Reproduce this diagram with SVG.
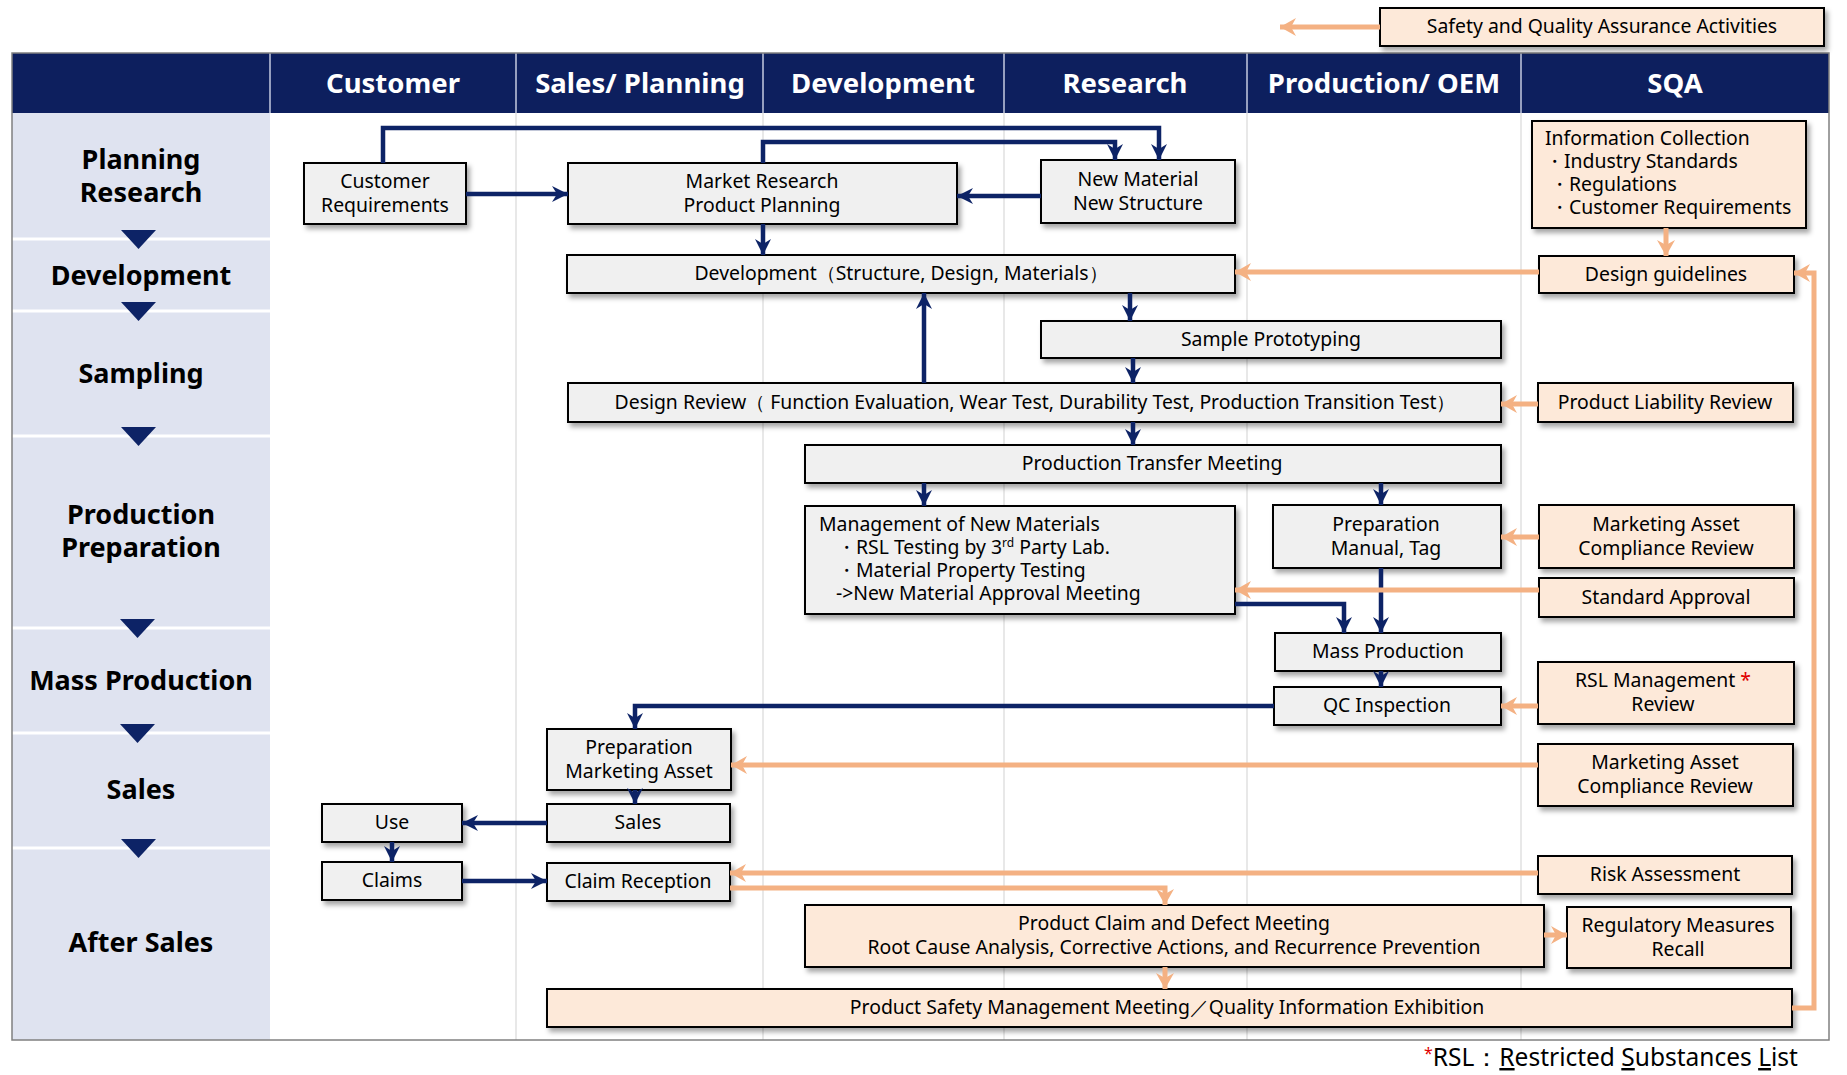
<svg xmlns="http://www.w3.org/2000/svg" width="1847" height="1075" viewBox="0 0 1847 1075">
<style>
  text { font-family: "Noto Sans", "Open Sans", "Liberation Sans", sans-serif; fill: #000; }
  .hdr { font-size: 27.5px; font-weight: bold; fill: #fff; text-anchor: middle; }
  .lbl { font-size: 27px; font-weight: bold; fill: #000; text-anchor: middle; }
  .t { font-size: 19.4px; text-anchor: middle; }
  .tl { font-size: 19.4px; text-anchor: start; }
  .g { fill: #f0f0f0; stroke: #000; stroke-width: 2; filter: url(#sh); }
  .o { fill: #fde9d9; stroke: #000; stroke-width: 2; filter: url(#sh); }
  .nv { fill: none; stroke: #0d2366; stroke-width: 4.5; marker-end: url(#an); }
  .or { fill: none; stroke: #f4b183; stroke-width: 5; marker-end: url(#ao); }
  .col { stroke: #d9d9d9; stroke-width: 1.2; }
  .sep { stroke: #ffffff; stroke-width: 3; }
  .tri { fill: #0d2366; }
</style>
<defs>
  <filter id="sh" x="-10%" y="-20%" width="120%" height="150%">
    <feDropShadow dx="3" dy="4" stdDeviation="2.5" flood-color="#000" flood-opacity="0.35"/>
  </filter>
  <marker id="an" markerUnits="userSpaceOnUse" markerWidth="18" markerHeight="16" refX="16" refY="8" orient="auto">
    <path d="M0,0 L16,8 L0,16 L5,8 Z" fill="#0d2366"/>
  </marker>
  <marker id="ao" markerUnits="userSpaceOnUse" markerWidth="18" markerHeight="18" refX="16" refY="9" orient="auto">
    <path d="M0,0 L16,9 L0,18 L5,9 Z" fill="#f4b183"/>
  </marker>
</defs>

<rect x="0" y="0" width="1847" height="1075" fill="#ffffff"/>

<!-- table background -->
<g id="table">
  <rect x="12" y="113" width="258" height="927" fill="#dfe3f0"/>
  <line class="col" x1="516" y1="113" x2="516" y2="1040"/>
  <line class="col" x1="763" y1="113" x2="763" y2="1040"/>
  <line class="col" x1="1004" y1="113" x2="1004" y2="1040"/>
  <line class="col" x1="1247" y1="113" x2="1247" y2="1040"/>
  <line class="col" x1="1521" y1="113" x2="1521" y2="1040"/>
  <line class="sep" x1="12" y1="239" x2="270" y2="239"/>
  <line class="sep" x1="12" y1="311" x2="270" y2="311"/>
  <line class="sep" x1="12" y1="436" x2="270" y2="436"/>
  <line class="sep" x1="12" y1="628" x2="270" y2="628"/>
  <line class="sep" x1="12" y1="733" x2="270" y2="733"/>
  <line class="sep" x1="12" y1="848" x2="270" y2="848"/>
  <rect x="12" y="53" width="1817" height="60" fill="#0d1f5e"/>
  <g stroke="#c5cbe0" stroke-width="1.5">
    <line x1="270" y1="53" x2="270" y2="113"/>
    <line x1="516" y1="53" x2="516" y2="113"/>
    <line x1="763" y1="53" x2="763" y2="113"/>
    <line x1="1004" y1="53" x2="1004" y2="113"/>
    <line x1="1247" y1="53" x2="1247" y2="113"/>
    <line x1="1521" y1="53" x2="1521" y2="113"/>
  </g>
  <rect x="12" y="53" width="1817" height="987" fill="none" stroke="#808080" stroke-width="1.5"/>
  <text class="hdr" x="393" y="93">Customer</text>
  <text class="hdr" x="640" y="93">Sales/ Planning</text>
  <text class="hdr" x="883" y="93">Development</text>
  <text class="hdr" x="1125" y="93">Research</text>
  <text class="hdr" x="1384" y="93">Production/ OEM</text>
  <text class="hdr" x="1675" y="93">SQA</text>
  <text class="lbl" x="141" y="169">Planning</text>
  <text class="lbl" x="141" y="202">Research</text>
  <text class="lbl" x="141" y="285">Development</text>
  <text class="lbl" x="141" y="383">Sampling</text>
  <text class="lbl" x="141" y="524">Production</text>
  <text class="lbl" x="141" y="557">Preparation</text>
  <text class="lbl" x="141" y="690">Mass Production</text>
  <text class="lbl" x="141" y="799">Sales</text>
  <text class="lbl" x="141" y="952">After Sales</text>
  <polygon class="tri" points="121,230 156,230 138.5,249"/>
  <polygon class="tri" points="121,302 156,302 138.5,321"/>
  <polygon class="tri" points="121,427 156,427 138.5,446"/>
  <polygon class="tri" points="120,619 155,619 137.5,638"/>
  <polygon class="tri" points="120,724 155,724 137.5,743"/>
  <polygon class="tri" points="121,839 156,839 138.5,858"/>
</g>

<!-- nodes -->
<g id="legend"><rect class="o" x="1380" y="8" width="444" height="38"/><text class="t" x="1602" y="33">Safety and Quality Assurance Activities</text></g>
<g id="customer-requirements"><rect class="g" x="304" y="163" width="162" height="61"/><text class="t" x="385" y="188">Customer</text><text class="t" x="385" y="212">Requirements</text></g>
<g id="market-research"><rect class="g" x="568" y="163" width="389" height="61"/><text class="t" x="762" y="188">Market Research</text><text class="t" x="762" y="212">Product Planning</text></g>
<g id="new-material"><rect class="g" x="1041" y="160" width="194" height="63"/><text class="t" x="1138" y="186">New Material</text><text class="t" x="1138" y="210">New Structure</text></g>
<g id="info-collection"><rect class="o" x="1532" y="121" width="274" height="107"/>
  <text class="tl" x="1545" y="145">Information Collection</text>
  <text class="tl" x="1545" y="168">・Industry Standards</text>
  <text class="tl" x="1550" y="191">・Regulations</text>
  <text class="tl" x="1550" y="214">・Customer Requirements</text></g>
<g id="design-guidelines"><rect class="o" x="1539" y="256" width="255" height="37"/><text class="t" x="1666" y="281">Design guidelines</text></g>
<g id="development"><rect class="g" x="567" y="255" width="668" height="38"/><text class="t" x="901" y="280">Development（Structure, Design, Materials）</text></g>
<g id="sample-prototyping"><rect class="g" x="1041" y="321" width="460" height="37"/><text class="t" x="1271" y="346">Sample Prototyping</text></g>
<g id="design-review"><rect class="g" x="568" y="383" width="933" height="39"/><text class="t" x="1035" y="409">Design Review（ Function Evaluation, Wear Test, Durability Test, Production Transition Test）</text></g>
<g id="product-liability-review"><rect class="o" x="1538" y="383" width="255" height="39"/><text class="t" x="1665" y="409">Product Liability Review</text></g>
<g id="production-transfer"><rect class="g" x="805" y="445" width="696" height="38"/><text class="t" x="1152" y="470">Production Transfer Meeting</text></g>
<g id="new-materials-management"><rect class="g" x="805" y="506" width="430" height="108"/>
  <text class="tl" x="819" y="531">Management of New Materials</text>
  <text class="tl" x="837" y="554">・RSL Testing by 3<tspan font-size="12" dy="-7">rd</tspan><tspan dy="7"> Party Lab.</tspan></text>
  <text class="tl" x="837" y="577">・Material Property Testing</text>
  <text class="tl" x="836" y="600">-&gt;New Material Approval Meeting</text></g>
<g id="preparation-manual"><rect class="g" x="1273" y="505" width="228" height="63"/><text class="t" x="1386" y="531">Preparation</text><text class="t" x="1386" y="555">Manual, Tag</text></g>
<g id="marketing-asset-review-1"><rect class="o" x="1539" y="505" width="255" height="63"/><text class="t" x="1666" y="531">Marketing Asset</text><text class="t" x="1666" y="555">Compliance Review</text></g>
<g id="standard-approval"><rect class="o" x="1539" y="578" width="255" height="39"/><text class="t" x="1666" y="604">Standard Approval</text></g>
<g id="mass-production"><rect class="g" x="1275" y="633" width="226" height="38"/><text class="t" x="1388" y="658">Mass Production</text></g>
<g id="qc-inspection"><rect class="g" x="1274" y="687" width="227" height="38"/><text class="t" x="1387" y="712">QC Inspection</text></g>
<g id="rsl-management"><rect class="o" x="1538" y="662" width="256" height="62"/><text class="t" x="1663" y="687">RSL Management <tspan fill="#e00000">*</tspan></text><text class="t" x="1663" y="711">Review</text></g>
<g id="marketing-asset-review-2"><rect class="o" x="1538" y="744" width="255" height="62"/><text class="t" x="1665" y="769">Marketing Asset</text><text class="t" x="1665" y="793">Compliance Review</text></g>
<g id="preparation-marketing-asset"><rect class="g" x="547" y="729" width="184" height="61"/><text class="t" x="639" y="754">Preparation</text><text class="t" x="639" y="778">Marketing Asset</text></g>
<g id="sales"><rect class="g" x="547" y="804" width="183" height="38"/><text class="t" x="638" y="829">Sales</text></g>
<g id="use"><rect class="g" x="322" y="804" width="140" height="38"/><text class="t" x="392" y="829">Use</text></g>
<g id="claims"><rect class="g" x="322" y="862" width="140" height="38"/><text class="t" x="392" y="887">Claims</text></g>
<g id="claim-reception"><rect class="g" x="547" y="863" width="183" height="38"/><text class="t" x="638" y="888">Claim Reception</text></g>
<g id="risk-assessment"><rect class="o" x="1538" y="856" width="254" height="38"/><text class="t" x="1665" y="881">Risk Assessment</text></g>
<g id="claim-defect-meeting"><rect class="o" x="805" y="905" width="739" height="62"/><text class="t" x="1174" y="930">Product Claim and Defect Meeting</text><text class="t" x="1174" y="954">Root Cause Analysis, Corrective Actions, and Recurrence Prevention</text></g>
<g id="regulatory-measures"><rect class="o" x="1567" y="907" width="224" height="61"/><text class="t" x="1678" y="932">Regulatory Measures</text><text class="t" x="1678" y="956">Recall</text></g>
<g id="product-safety-meeting"><rect class="o" x="547" y="989" width="1245" height="38"/><text class="t" x="1167" y="1014">Product Safety Management Meeting／Quality Information Exhibition</text></g>

<!-- connectors -->
<g id="connectors">
  <path class="nv" d="M383,163 V128 H1159 V160"/>
  <path class="nv" d="M763,163 V142 H1115 V160"/>
  <path class="nv" d="M466,194 H568"/>
  <path class="nv" d="M1041,196 H957"/>
  <path class="nv" d="M763,224 V255"/>
  <path class="nv" d="M924,383 V293"/>
  <path class="nv" d="M1130,293 V321"/>
  <path class="nv" d="M1133,358 V383"/>
  <path class="nv" d="M1133,422 V445"/>
  <path class="nv" d="M924,483 V506"/>
  <path class="nv" d="M1381,483 V505"/>
  <path class="nv" d="M1381,568 V633"/>
  <path class="nv" d="M1235,604 H1344 V633"/>
  <path class="nv" d="M1381,671 V687"/>
  <path class="nv" d="M1274,706 H635 V729"/>
  <path class="nv" d="M635,790 V804"/>
  <path class="nv" d="M547,823 H462"/>
  <path class="nv" d="M392,842 V862"/>
  <path class="nv" d="M462,881 H547"/>

  <path class="or" d="M1380,27 H1280"/>
  <path class="or" d="M1666,228 V256"/>
  <path class="or" d="M1539,272 H1235"/>
  <path class="or" d="M1538,404 H1501"/>
  <path class="or" d="M1539,537 H1501"/>
  <path class="or" d="M1539,590 H1235"/>
  <path class="or" d="M1538,706 H1501"/>
  <path class="or" d="M1538,765 H731"/>
  <path class="or" d="M1538,873 H730"/>
  <path class="or" d="M730,888 H1165 V905"/>
  <path class="or" d="M1544,935 H1567"/>
  <path class="or" d="M1165,967 V989"/>
  <path class="or" d="M1792,1008 H1814 V273 H1794"/>
</g>

<g id="footnote">
  <text x="1424" y="1066" font-size="24.5"><tspan fill="#e00000" font-size="16" dy="-7">*</tspan><tspan dy="7">RSL：</tspan><tspan text-decoration="underline">R</tspan>estricted <tspan text-decoration="underline">S</tspan>ubstances <tspan text-decoration="underline">L</tspan>ist</text>
</g>
</svg>
